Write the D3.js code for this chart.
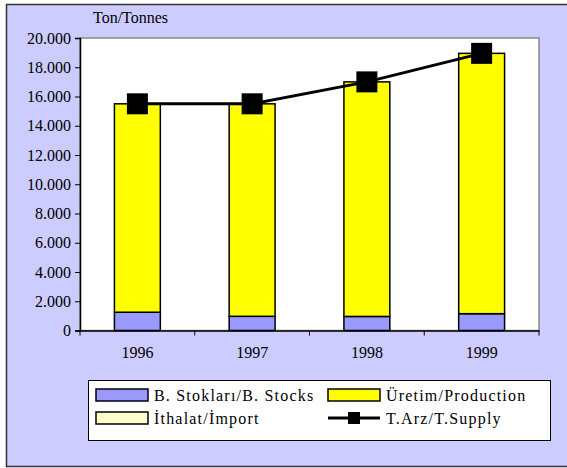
<!DOCTYPE html>
<html>
<head>
  <style>
    body { margin: 0; background: #fff; }
  </style>
</head>
<body>
  <script src="https://d3js.org/d3.v7.min.js"></script>
  <script>
    // data (tonnes)
    const years = ["1996", "1997", "1998", "1999"];
    const stocks = [1250, 970, 960, 1150];
    const production = [14250, 14530, 16040, 17800];
    const imports = [0, 0, 0, 0];
    const supply = [15500, 15500, 17000, 18950];
    const yTicks = [0, 2000, 4000, 6000, 8000, 10000, 12000, 14000, 16000, 18000, 20000];

    const w = 567, h = 468;
    const plot = { left: 80, top: 38, right: 539, bottom: 330.5 };
    const FONT = "'Liberation Serif'";

    const svg = d3.select("body").append("svg")
      .attr("width", w)
      .attr("height", h);

    // chart area background + frame
    svg.append("rect")
      .attr("x", 6.5).attr("y", 4.5)
      .attr("width", 570).attr("height", 462)
      .attr("fill", "#ccccff")
      .attr("stroke", "#333").attr("stroke-width", 1.5);

    svg.append("rect")
      .attr("x", plot.left).attr("y", plot.top)
      .attr("width", plot.right - plot.left).attr("height", plot.bottom - plot.top)
      .attr("fill", "#fff")
      .attr("stroke", "#888").attr("stroke-width", 1.5);

    const x = d3.scaleBand()
      .domain(years)
      .range([plot.left, plot.right])
      .paddingInner(0.6)
      .paddingOuter(0.3);

    const band = d3.scaleBand().domain(years).range([plot.left, plot.right]);

    const y = d3.scaleLinear()
      .domain([0, 20000])
      .range([plot.bottom, plot.top]);

    // stacked bars
    const rows = years.map((yr, i) => ({ year: yr, stocks: stocks[i], production: production[i], imports: imports[i] }));
    const stack = d3.stack().keys(["stocks", "production", "imports"])(rows);
    const colors = { stocks: "#9999ff", production: "#ffff00", imports: "#ffffcc" };

    svg.append("g").selectAll("g")
      .data(stack)
      .enter()
      .append("g")
      .attr("fill", (d) => colors[d.key])
      .selectAll("rect")
      .data((d) => d.filter((p) => p[1] > p[0]))
      .enter()
      .append("rect")
      .attr("x", (d) => x(d.data.year))
      .attr("y", (d) => y(d[1]))
      .attr("width", x.bandwidth())
      .attr("height", (d) => y(d[0]) - y(d[1]))
      .attr("stroke", "#000")
      .attr("stroke-width", 1.5);

    // axes
    const yAxis = d3.axisLeft(y)
      .tickValues(yTicks)
      .tickSize(5)
      .tickFormat((d) => d3.format(",.0f")(d).replace(",", "."));

    const gy = svg.append("g")
      .attr("transform", "translate(" + plot.left + ",0)")
      .call(yAxis);
    gy.selectAll("text").attr("x", -9)
      .style("font-family", FONT).style("font-size", "16px").style("fill", "#000");

    const xAxis = d3.axisBottom(band).tickSize(0);
    const gx = svg.append("g")
      .attr("transform", "translate(0," + plot.bottom + ")")
      .call(xAxis);
    gx.selectAll("text").attr("y", 27).attr("dy", 0)
      .style("font-family", FONT).style("font-size", "16px").style("fill", "#000");
    // category separator ticks (both edges of every band)
    const seps = [band(years[0])].concat(years.map((d) => band(d) + band.bandwidth()));
    gx.selectAll(".sep")
      .data(seps)
      .enter()
      .append("line")
      .attr("x1", (d) => d)
      .attr("x2", (d) => d)
      .attr("y1", 0).attr("y2", 5)
      .attr("stroke", "#000");

    [gx, gy].forEach((g) => {
      g.select(".domain").attr("stroke", "#000").attr("stroke-width", 1.5);
      g.selectAll(".tick line").attr("stroke", "#000");
    });

    // supply line
    const cx = (d, i) => x(years[i]) + x.bandwidth() / 2;
    const line = d3.line().x((d, i) => cx(d, i)).y((d) => y(d));
    svg.append("path")
      .datum(supply)
      .attr("d", line)
      .attr("fill", "none")
      .attr("stroke", "#000")
      .attr("stroke-width", 3);

    const ms = 21;
    svg.append("g").selectAll("rect")
      .data(supply)
      .enter()
      .append("rect")
      .attr("x", (d, i) => cx(d, i) - ms / 2)
      .attr("y", (d) => y(d) - ms / 2)
      .attr("width", ms).attr("height", ms)
      .attr("fill", "#000");

    svg.append("text")
      .attr("x", 93).attr("y", 23)
      .style("font-family", FONT).style("font-size", "16px")
      .text("Ton/Tonnes");

    // legend
    const lg = svg.append("g");
    lg.append("rect")
      .attr("x", 88.5).attr("y", 380.5)
      .attr("width", 462).attr("height", 60)
      .attr("fill", "#fff").attr("stroke", "#000");

    const legendItems = [
      { label: "B. Stokları/B. Stocks", color: colors.stocks, type: "box", lx: 96, ly: 395 },
      { label: "Üretim/Production", color: colors.production, type: "box", lx: 328, ly: 395 },
      { label: "İthalat/İmport", color: colors.imports, type: "box", lx: 96, ly: 418 },
      { label: "T.Arz/T.Supply", color: "#000", type: "line", lx: 328, ly: 418 }
    ];

    legendItems.forEach((it) => {
      if (it.type === "box") {
        lg.append("rect")
          .attr("x", it.lx).attr("y", it.ly - 6)
          .attr("width", 52).attr("height", 12)
          .attr("fill", it.color).attr("stroke", "#000").attr("stroke-width", 1.5);
      } else {
        lg.append("line")
          .attr("x1", it.lx).attr("x2", it.lx + 52)
          .attr("y1", it.ly).attr("y2", it.ly)
          .attr("stroke", "#000").attr("stroke-width", 3);
        lg.append("rect")
          .attr("x", it.lx + 20).attr("y", it.ly - 6)
          .attr("width", 12).attr("height", 12)
          .attr("fill", "#000");
      }
      lg.append("text")
        .attr("x", it.lx + 58).attr("y", it.ly + 5.5)
        .style("font-family", FONT).style("font-size", "16px")
        .style("letter-spacing", "1.2px")
        .text(it.label);
    });
  </script>
</body>
</html>
